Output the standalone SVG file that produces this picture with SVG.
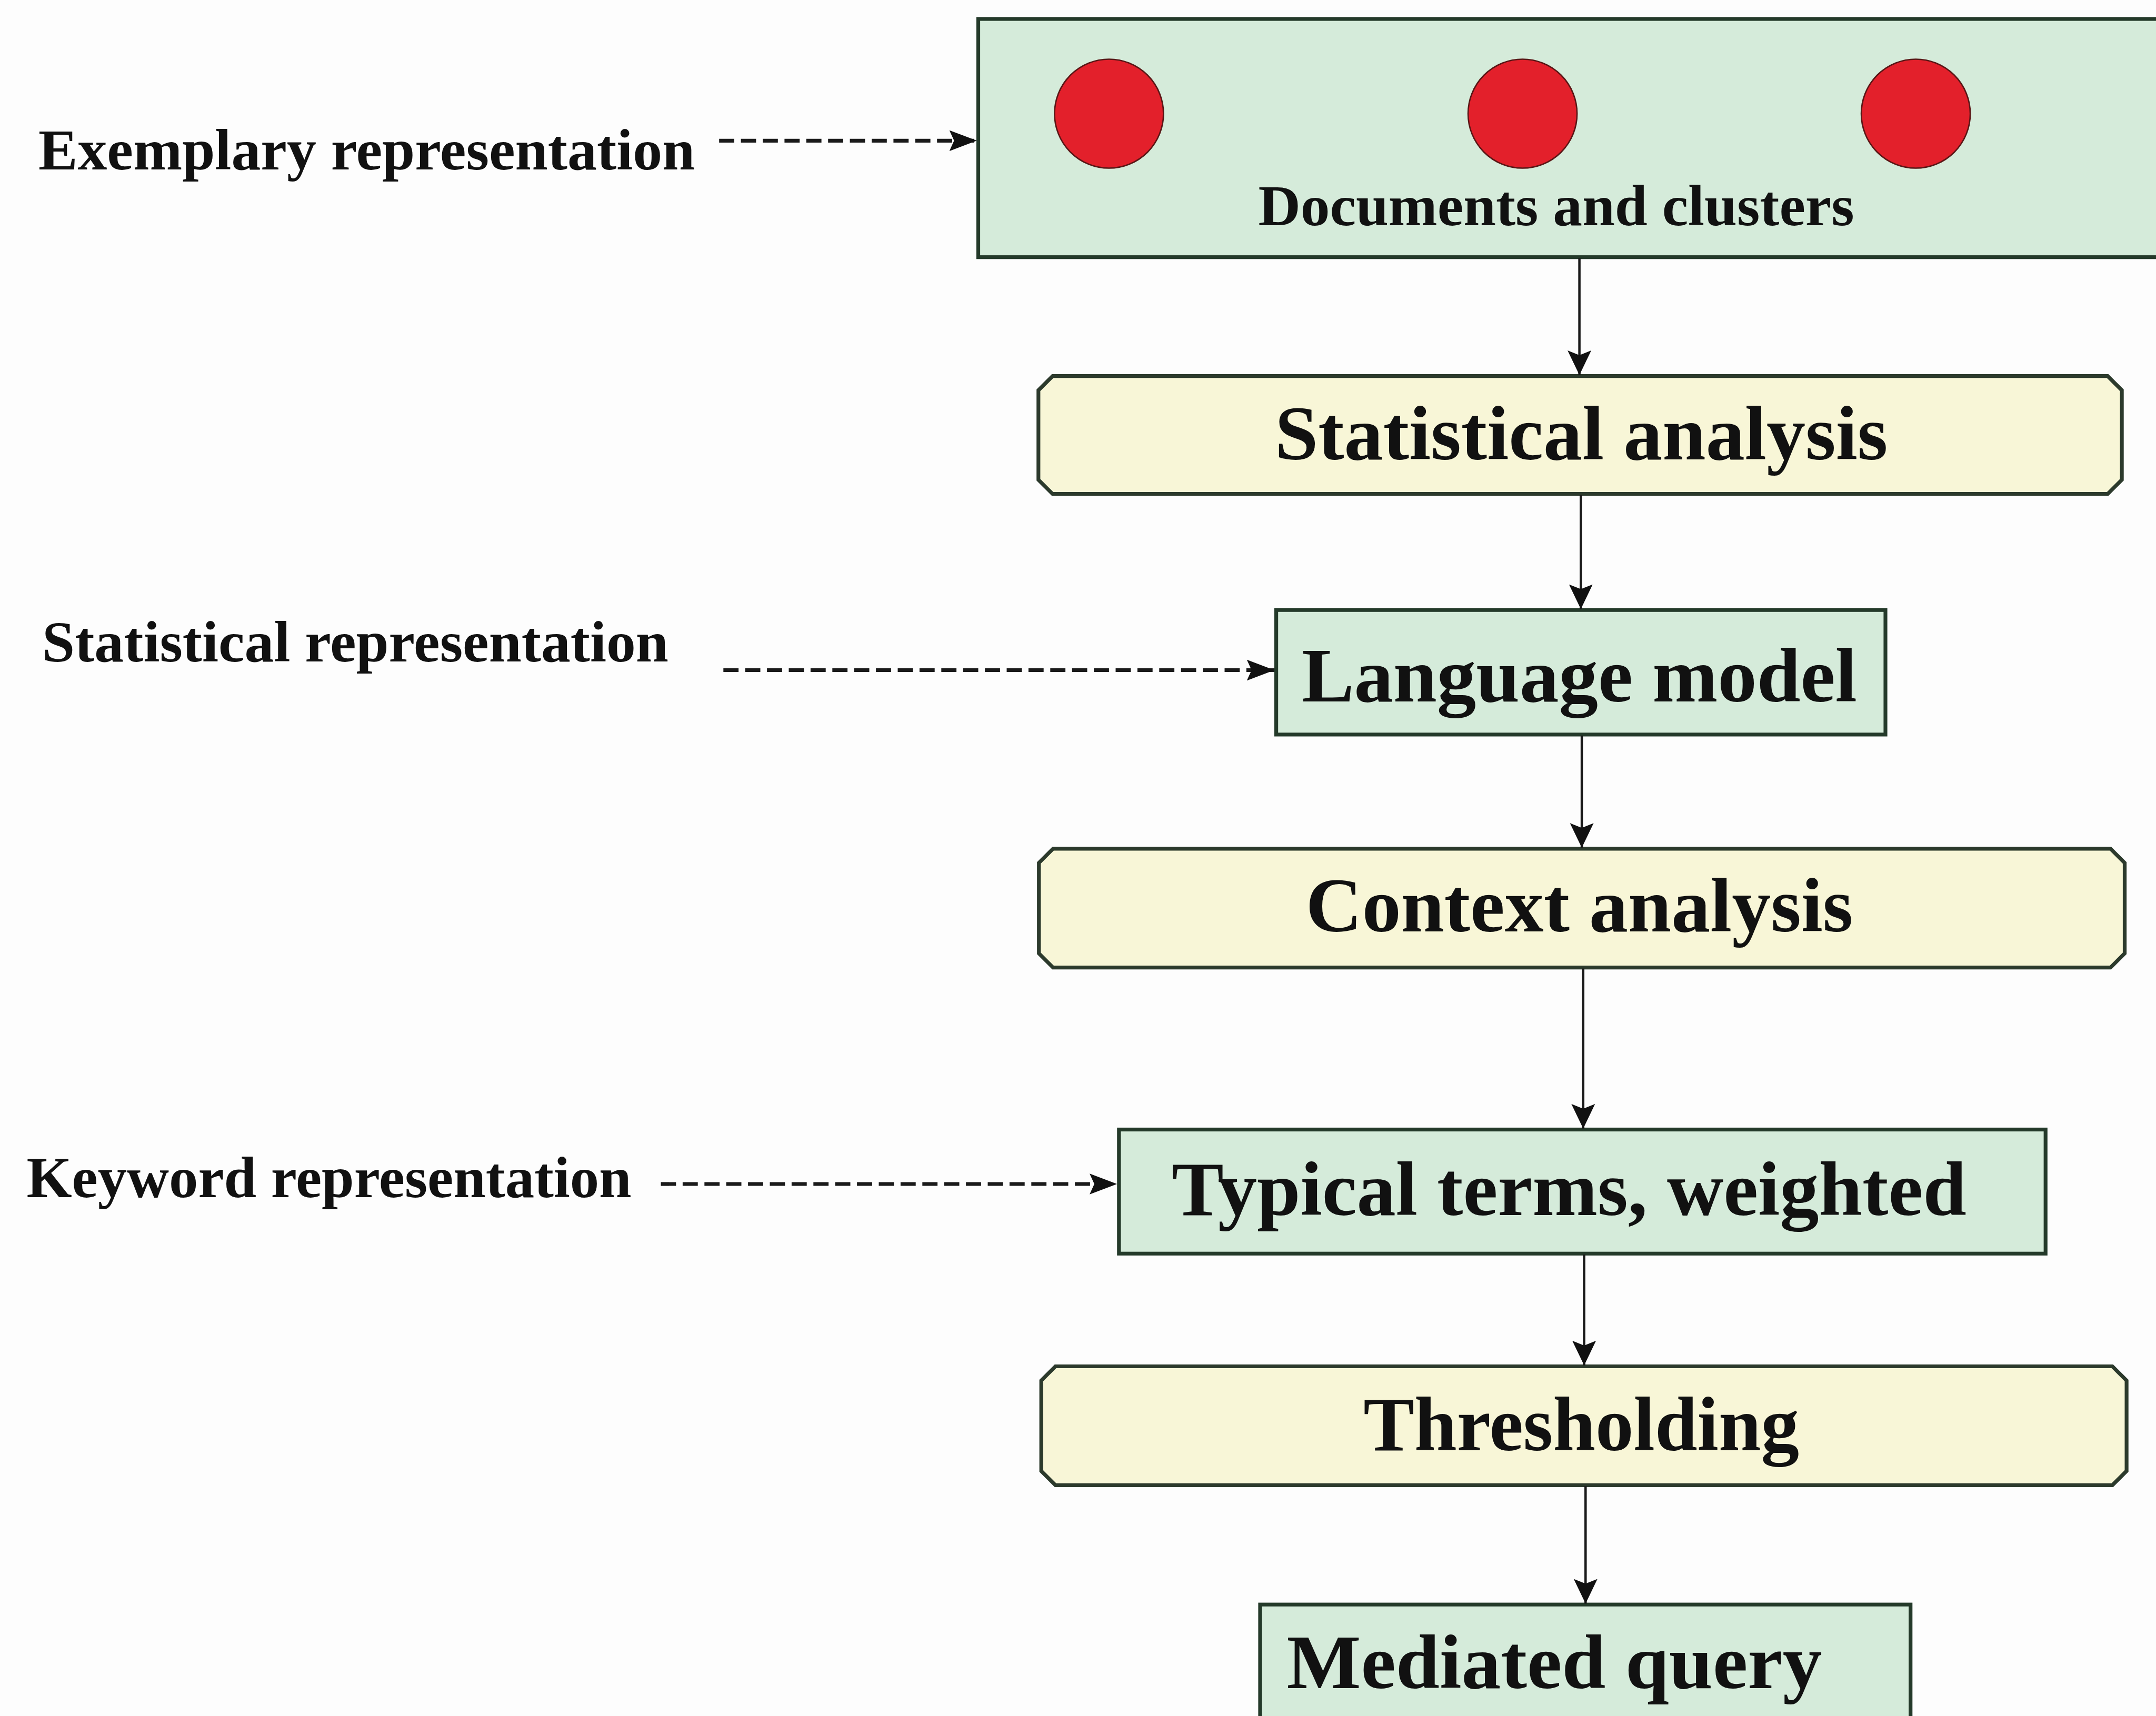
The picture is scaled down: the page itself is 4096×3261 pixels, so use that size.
<svg xmlns="http://www.w3.org/2000/svg" width="4096" height="3261" viewBox="0 0 4096 3261">
  <defs>
    <style>
      .side { font-family: "Liberation Serif", "Times New Roman", serif; font-weight: bold; font-size: 122px; fill: #111; }
      .lbl { font-family: "Liberation Serif", "Times New Roman", serif; font-weight: bold; font-size: 162px; fill: #111; text-anchor: middle; }
      .small { font-size: 122px; }
      .green { fill: #d5ebda; stroke: #243a2a; stroke-width: 8; }
      .yellow { fill: #f8f6d7; stroke: #2c3a2c; stroke-width: 8; }
      .flow { stroke: #1a1a1a; stroke-width: 5; fill: none; }
      .dash { stroke: #1a1a1a; stroke-width: 8; fill: none; stroke-dasharray: 32 14; }
      .dot { fill: #e3202b; stroke: #5a1616; stroke-width: 3; }
    </style>
    <marker id="solidHead" markerUnits="userSpaceOnUse" markerWidth="54" markerHeight="54" viewBox="0 0 54 54" refX="52" refY="27" orient="auto">
      <path d="M0,2 L52,27 L0,52 L10,27 Z" fill="#111"/>
    </marker>
    <marker id="dashHead" markerUnits="userSpaceOnUse" markerWidth="60" markerHeight="46" viewBox="0 0 60 46" refX="58" refY="23" orient="auto">
      <path d="M0,1 L58,23 L0,45 L10,23 Z" fill="#111"/>
    </marker>
  </defs>

  <rect x="0" y="0" width="4096" height="3261" fill="#fdfdfd"/>

  <g transform="scale(0.9)">
    <!-- process nodes -->
    <g id="node-documents">
      <rect class="green" x="2065" y="40" width="2560" height="503"/>
      <circle class="dot" cx="2341" cy="240" r="115"/>
      <circle class="dot" cx="3214" cy="240" r="115"/>
      <circle class="dot" cx="4044" cy="240" r="115"/>
      <text class="lbl small" x="3285" y="476" textLength="1258" lengthAdjust="spacingAndGlyphs">Documents and clusters</text>
    </g>

    <g id="node-statistical-analysis">
      <path class="yellow" d="M2222,794 H4449 L4479,824 V1013 L4449,1043 H2222 L2192,1013 V824 Z"/>
      <text class="lbl" x="3338" y="970" textLength="1294" lengthAdjust="spacingAndGlyphs">Statistical analysis</text>
    </g>

    <g id="node-language-model">
      <rect class="green" x="2694" y="1288" width="1286" height="263"/>
      <text class="lbl" x="3334" y="1481" textLength="1172" lengthAdjust="spacingAndGlyphs">Language model</text>
    </g>

    <g id="node-context-analysis">
      <path class="yellow" d="M2223,1792 H4455 L4485,1822 V2013 L4455,2043 H2223 L2193,2013 V1822 Z"/>
      <text class="lbl" x="3334" y="1967" textLength="1155" lengthAdjust="spacingAndGlyphs">Context analysis</text>
    </g>

    <g id="node-typical-terms">
      <rect class="green" x="2362" y="2385" width="1956" height="262"/>
      <text class="lbl" x="3312" y="2566" textLength="1678" lengthAdjust="spacingAndGlyphs">Typical terms, weighted</text>
    </g>

    <g id="node-thresholding">
      <path class="yellow" d="M2228,2885 H4459 L4489,2915 V3106 L4459,3136 H2228 L2198,3106 V2915 Z"/>
      <text class="lbl" x="3338" y="3062" textLength="920" lengthAdjust="spacingAndGlyphs">Thresholding</text>
    </g>

    <g id="node-mediated-query">
      <rect class="green" x="2660" y="3388" width="1373" height="300"/>
      <text class="lbl" x="3281" y="3564" textLength="1130" lengthAdjust="spacingAndGlyphs">Mediated query</text>
    </g>

    <!-- representation labels -->
    <g id="label-exemplary">
      <text class="side" x="81" y="358" textLength="1386" lengthAdjust="spacingAndGlyphs">Exemplary representation</text>
    </g>
    <g id="label-statistical">
      <text class="side" x="89" y="1397" textLength="1322" lengthAdjust="spacingAndGlyphs">Statistical representation</text>
    </g>
    <g id="label-keyword">
      <text class="side" x="56" y="2528" textLength="1277" lengthAdjust="spacingAndGlyphs">Keyword representation</text>
    </g>

    <!-- connectors -->
    <g id="connectors">
      <line class="flow" x1="3334" y1="545" x2="3334" y2="792" marker-end="url(#solidHead)"/>
      <line class="flow" x1="3337" y1="1045" x2="3337" y2="1286" marker-end="url(#solidHead)"/>
      <line class="flow" x1="3339" y1="1553" x2="3339" y2="1790" marker-end="url(#solidHead)"/>
      <line class="flow" x1="3342" y1="2045" x2="3342" y2="2383" marker-end="url(#solidHead)"/>
      <line class="flow" x1="3344" y1="2649" x2="3344" y2="2883" marker-end="url(#solidHead)"/>
      <line class="flow" x1="3347" y1="3138" x2="3347" y2="3386" marker-end="url(#solidHead)"/>

      <line class="dash" x1="1518" y1="297" x2="2062" y2="297" marker-end="url(#dashHead)"/>
      <line class="dash" x1="1527" y1="1415" x2="2690" y2="1415" marker-end="url(#dashHead)"/>
      <line class="dash" x1="1395" y1="2500" x2="2358" y2="2500" marker-end="url(#dashHead)"/>
    </g>
  </g>
</svg>
